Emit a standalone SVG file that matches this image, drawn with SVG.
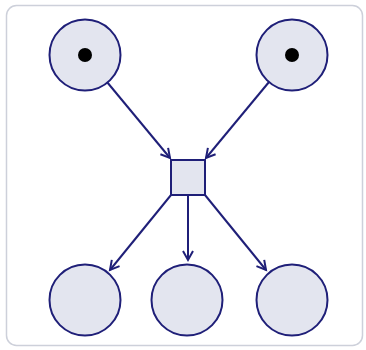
<svg xmlns="http://www.w3.org/2000/svg" width="366" height="350" viewBox="0 0 366 350">
<style>
.place{fill:#e3e5ef;stroke:#1f1f78;stroke-width:2}
.trans{fill:#e3e5ef;stroke:#1f1f78;stroke-width:2}
.tok{fill:#000}
.arc{stroke:#1f1f78;stroke-width:2;fill:none;marker-end:url(#ah)}
</style>
<defs>
<marker id="ah" markerUnits="userSpaceOnUse" markerWidth="14" markerHeight="14" refX="10" refY="6" orient="auto" viewBox="0 0 14 12">
<path d="M1,1 L10,6 L1,11" fill="none" stroke="#1f1f78" stroke-width="2"/>
</marker>
</defs>
<rect x="6.5" y="5.5" width="356" height="340" rx="10" fill="#fff" stroke="#cdd0da" stroke-width="1.5"/>
<g id="connectors">
<line class="arc" x1="107" y1="82" x2="170" y2="158"/>
<line class="arc" x1="269" y1="82" x2="206" y2="158"/>
<line class="arc" x1="171" y1="195" x2="110" y2="270"/>
<line class="arc" x1="188" y1="195" x2="188" y2="260"/>
<line class="arc" x1="205" y1="195" x2="266" y2="270"/>
</g>
<g id="p1"><circle class="place" cx="85" cy="55" r="35.5"/><circle class="tok" cx="85" cy="55" r="7"/></g>
<g id="p2"><circle class="place" cx="292" cy="55" r="35.5"/><circle class="tok" cx="292" cy="55" r="7"/></g>
<g id="t1"><rect class="trans" x="171" y="160" width="34" height="35"/></g>
<g id="p3"><circle class="place" cx="85" cy="300" r="35.5"/></g>
<g id="p4"><circle class="place" cx="187" cy="300" r="35.5"/></g>
<g id="p5"><circle class="place" cx="292" cy="300" r="35.5"/></g>
</svg>
